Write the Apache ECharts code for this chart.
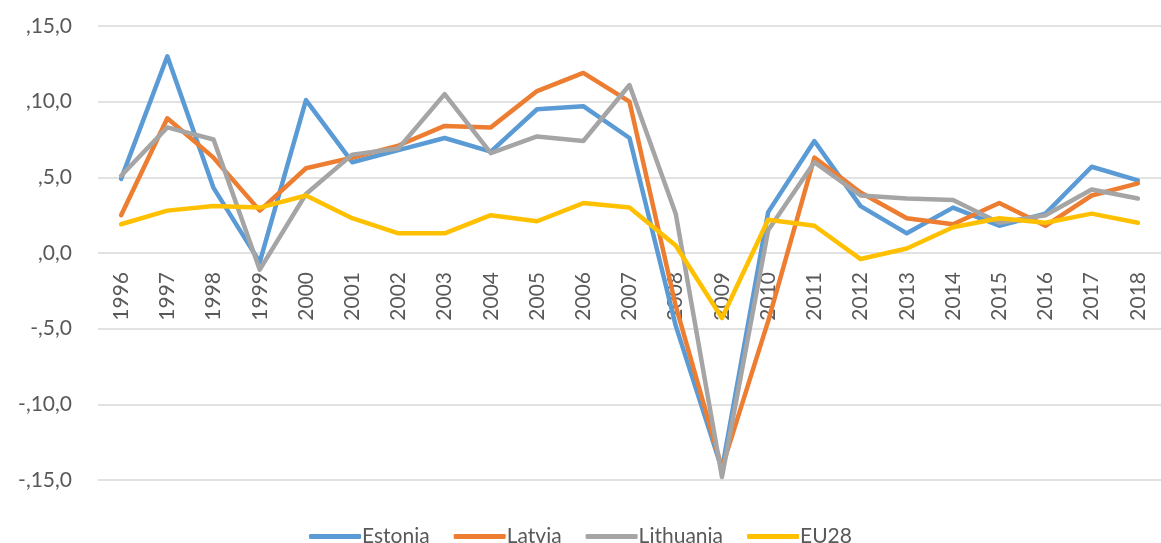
<!DOCTYPE html>
<html>
<head>
<meta charset="utf-8">
<script src="https://cdn.jsdelivr.net/npm/echarts@6/dist/echarts.min.js"></script>
<style>
    html, body { margin: 0; padding: 0; background: #fff; }
    #chart { width: 1161px; height: 543px; }
</style>
</head>
<body>
<div id="chart"></div>
<script>
var years = ['1996', '1997', '1998', '1999', '2000', '2001', '2002', '2003', '2004', '2005', '2006', '2007',
    '2008', '2009', '2010', '2011', '2012', '2013', '2014', '2015', '2016', '2017', '2018'];
var estonia = [4.9, 13.0, 4.3, -0.6, 10.1, 6.0, 6.8, 7.6, 6.7, 9.5, 9.7, 7.6, -4.8, -14.3, 2.7, 7.4, 3.1, 1.3, 3.0, 1.8, 2.6, 5.7, 4.8];
var latvia = [2.5, 8.9, 6.3, 2.8, 5.6, 6.3, 7.1, 8.4, 8.3, 10.7, 11.9, 10.0, -3.5, -14.2, -4.5, 6.3, 4.0, 2.3, 1.9, 3.3, 1.8, 3.8, 4.6];
var lithuania = [5.1, 8.3, 7.5, -1.1, 3.9, 6.5, 6.9, 10.5, 6.6, 7.7, 7.4, 11.1, 2.6, -14.8, 1.5, 6.0, 3.8, 3.6, 3.5, 2.0, 2.5, 4.2, 3.6];
var eu28 = [1.9, 2.8, 3.1, 3.0, 3.8, 2.3, 1.3, 1.3, 2.5, 2.1, 3.3, 3.0, 0.5, -4.3, 2.2, 1.8, -0.4, 0.3, 1.7, 2.3, 2.0, 2.6, 2.0];

var chart = echarts.init(document.getElementById('chart'));

//折线样式
function lineSeries(name, data, color) {
    return {
        name: name,
        type: 'line',
        data: data,
        symbol: 'none',
        showSymbol: false,
        itemStyle: { color: color },
        lineStyle: { color: color, width: 4.5, cap: 'round', join: 'round' }
    };
}

var option = {
    animation: false,
    textStyle: { fontFamily: 'Lato', color: '#595959' },
    grid: {
        left: 98,
        top: 26,
        width: 1077,
        height: 454
    },
    legend: {
        top: 521,
        left: 'center',
        icon: 'roundRect',
        itemWidth: 52,
        itemHeight: 5,
        itemGap: 24,
        lineStyle: { width: 5, cap: 'round' },
        textStyle: { fontFamily: 'Lato', fontSize: 21, color: '#595959', padding: [0, 0, 0, -4] },
        data: ['Estonia', 'Latvia', 'Lithuania', 'EU28']
    },
    xAxis: {
        type: 'category',
        data: years,
        boundaryGap: true,
        // 横轴放在0刻度处
        offset: -227,
        axisLine: { show: false, onZero: false },
        axisTick: { show: false },
        axisLabel: {
            interval: 0,
            rotate: 90,
            margin: 19,
            fontSize: 21,
            color: '#595959',
            fontFamily: 'Lato'
        },
        splitLine: { show: false }
    },
    yAxis: {
        type: 'value',
        min: -15,
        max: 15,
        interval: 5,
        axisLine: { show: false },
        axisTick: { show: false },
        axisLabel: {
            margin: 26,
            fontSize: 21,
            color: '#595959',
            fontFamily: 'Lato',
            formatter: function (v) {
                return (v < 0 ? '-,' + Math.abs(v) : ',' + v) + ',0';
            }
        },
        splitLine: { lineStyle: { color: '#d9d9d9', width: 1.5 } }
    },
    series: [
        lineSeries('Estonia', estonia, '#5b9bd5'),
        lineSeries('Latvia', latvia, '#ed7d31'),
        lineSeries('Lithuania', lithuania, '#a5a5a5'),
        lineSeries('EU28', eu28, '#ffc000')
    ]
};
chart.setOption(option);
</script>
</body>
</html>
